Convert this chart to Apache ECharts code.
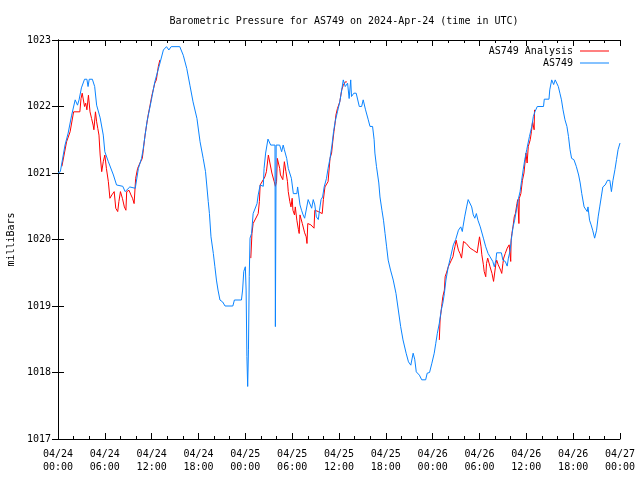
<!DOCTYPE html>
<html>
<head>
<meta charset="utf-8">
<script src="https://cdn.jsdelivr.net/npm/echarts@6/dist/echarts.min.js"></script>
<style>html,body{margin:0;padding:0;background:#fff}#c{width:640px;height:480px}</style>
</head>
<body>
<div id="c"></div>
<script>
// X values are hours since 2024-04-24 00:00 UTC
var tickLabels = ["04/24\n00:00","04/24\n06:00","04/24\n12:00","04/24\n18:00","04/25\n00:00","04/25\n06:00","04/25\n12:00","04/25\n18:00","04/26\n00:00","04/26\n06:00","04/26\n12:00","04/26\n18:00","04/27\n00:00"];
var yTicks = [1017,1018,1019,1020,1021,1022,1023];

var blueHours = [0.0,0.3,0.9,1.3,1.75,2.2,2.5,2.7,3.0,3.4,3.7,3.85,4.0,4.4,4.7,4.95,5.4,5.8,6.0,6.45,7.1,7.5,8.3,8.6,9.2,9.9,10.3,10.7,10.9,11.4,12.0,12.4,13.1,13.5,13.9,14.2,14.5,15.6,16.05,16.5,16.9,17.3,17.8,18.2,18.6,18.9,19.25,19.4,19.6,19.9,20.1,20.3,20.5,20.75,21.1,21.4,22.4,22.6,23.5,23.65,23.8,24.0,24.1,24.2,24.3,24.4,24.5,24.6,24.8,25.0,25.5,25.65,25.9,26.3,26.4,26.6,26.9,27.25,27.8,27.85,27.95,28.4,28.65,28.85,29.0,29.3,29.5,29.9,30.15,30.6,30.7,30.9,31.0,31.2,31.4,31.6,31.8,32.05,32.3,32.5,32.7,32.9,33.1,33.35,33.5,33.7,33.9,34.1,34.4,34.6,34.85,35.1,35.3,35.5,35.8,36.1,36.35,36.55,36.8,37.1,37.3,37.5,37.6,37.9,38.2,38.6,38.9,39.1,39.4,39.75,39.97,40.3,40.5,40.6,40.8,41.1,41.25,41.5,41.7,41.9,42.1,42.3,42.6,42.95,43.3,43.6,43.9,44.2,44.6,44.9,45.2,45.5,45.7,45.9,46.3,46.6,47.1,47.3,47.6,47.9,48.2,48.4,48.6,48.85,49.1,49.3,49.5,49.7,50.0,50.3,50.65,50.95,51.3,51.6,51.8,51.9,52.1,52.35,52.55,52.8,53.0,53.2,53.4,53.6,53.8,54.1,54.3,54.5,54.8,55.1,55.35,55.7,55.9,56.1,56.2,56.8,57.0,57.3,57.55,57.7,57.9,58.1,58.3,58.5,58.8,59.0,59.2,59.4,59.6,59.8,60.05,60.4,60.7,60.9,61.1,61.4,62.2,62.3,62.9,63.0,63.25,63.5,63.7,63.9,64.1,64.3,64.5,64.7,64.95,65.2,65.4,65.6,65.8,66.1,66.4,66.7,66.9,67.1,67.4,67.6,67.8,67.9,68.1,68.3,68.5,68.75,69.0,69.2,69.4,69.6,69.8,70.1,70.4,70.7,70.9,71.1,71.35,71.55,71.75,72.0];
var blueValues = [1021.0,1021.02,1021.42,1021.6,1021.87,1022.1,1022.02,1022.1,1022.28,1022.41,1022.41,1022.3,1022.41,1022.41,1022.3,1022.02,1021.83,1021.57,1021.32,1021.17,1020.97,1020.82,1020.8,1020.72,1020.79,1020.77,1021.07,1021.22,1021.35,1021.77,1022.12,1022.37,1022.67,1022.85,1022.9,1022.85,1022.9,1022.9,1022.77,1022.57,1022.32,1022.07,1021.82,1021.47,1021.22,1021.02,1020.57,1020.39,1020.04,1019.79,1019.59,1019.39,1019.24,1019.09,1019.06,1019.0,1019.0,1019.09,1019.09,1019.24,1019.52,1019.59,1019.24,1018.24,1017.79,1018.34,1019.44,1020.02,1020.09,1020.39,1020.54,1020.67,1020.82,1020.8,1021.07,1021.3,1021.51,1021.42,1021.42,1018.69,1021.42,1021.42,1021.32,1021.42,1021.35,1021.22,1021.07,1020.92,1020.69,1020.69,1020.79,1020.79,1020.52,1020.44,1020.37,1020.32,1020.32,1020.6,1020.6,1020.47,1020.6,1020.52,1020.34,1020.3,1020.44,1020.6,1020.64,1020.79,1020.92,1021.07,1021.22,1021.42,1021.62,1021.77,1021.92,1022.07,1022.25,1022.4,1022.3,1022.35,1022.12,1022.4,1022.15,1022.2,1022.2,1022.0,1022.0,1022.1,1021.95,1021.8,1021.7,1021.7,1021.5,1021.3,1021.1,1020.85,1020.64,1020.44,1020.29,1020.09,1019.89,1019.69,1019.54,1019.39,1019.19,1018.94,1018.69,1018.49,1018.29,1018.16,1018.11,1018.29,1018.2,1018.01,1017.96,1017.89,1017.89,1017.99,1018.0,1018.14,1018.29,1018.44,1018.59,1018.74,1018.94,1019.04,1019.19,1019.39,1019.59,1019.74,1019.92,1020.0,1020.14,1020.19,1020.12,1020.2,1020.34,1020.49,1020.6,1020.6,1020.49,1020.37,1020.32,1020.39,1020.29,1020.19,1020.19,1020.02,1019.89,1019.79,1019.74,1019.67,1019.59,1019.69,1019.8,1019.8,1019.69,1019.67,1019.6,1019.72,1019.82,1020.02,1020.19,1020.29,1020.49,1020.62,1020.72,1020.89,1021.05,1021.2,1021.35,1021.55,1021.7,1021.85,1021.92,1022.0,1022.0,1022.11,1022.11,1022.25,1022.4,1022.33,1022.4,1022.4,1022.3,1022.2,1022.1,1021.95,1021.8,1021.7,1021.55,1021.35,1021.22,1021.2,1021.1,1020.97,1020.85,1020.69,1020.49,1020.49,1020.42,1020.49,1020.29,1020.22,1020.14,1020.02,1020.14,1020.34,1020.49,1020.64,1020.79,1020.82,1020.89,1020.89,1020.72,1020.89,1021.05,1021.2,1021.35,1021.45];

// null values mark gaps between analysis runs
var redHours = [0.5,1.1,1.55,2.0,2.8,2.95,3.1,3.4,3.55,3.7,3.9,4.1,4.3,4.5,4.6,4.8,4.95,5.1,5.25,5.4,5.6,5.8,6.0,6.2,6.45,6.65,6.9,7.2,7.4,7.65,7.8,8.0,8.25,8.5,8.7,8.8,9.1,9.35,9.55,9.75,9.95,10.2,10.5,10.8,10.95,11.15,11.35,11.55,11.8,12.0,12.2,12.4,12.6,12.85,13.05,
  18.0,
  24.7,24.85,25.0,25.65,25.8,25.9,26.1,26.3,26.5,26.7,26.95,27.2,27.4,27.7,27.85,28.0,28.1,28.4,28.5,28.8,29.0,29.2,29.4,29.5,29.7,29.85,30.0,30.1,30.3,30.4,30.6,30.8,30.9,31.0,31.1,31.3,31.6,31.8,31.9,32.0,32.4,32.8,32.9,33.35,33.55,33.85,34.0,34.2,34.6,34.8,34.85,35.05,35.2,35.35,35.5,35.6,35.8,36.1,36.35,36.55,36.8,37.0,
  42.0,
  48.85,48.95,49.15,49.3,49.5,49.6,49.8,50.0,50.2,50.4,50.6,50.75,50.85,51.0,51.1,51.3,51.5,51.7,51.85,51.95,52.3,52.8,53.2,53.45,53.7,53.9,54.0,54.1,54.2,54.3,54.5,54.6,54.8,54.9,55.05,55.2,55.35,55.6,55.8,56.0,56.1,56.2,56.4,56.7,56.85,57.0,57.1,57.3,57.55,57.8,58.0,58.05,58.15,58.3,58.45,58.6,58.8,58.9,59.05,59.1,59.3,59.5,59.7,59.95,60.1,60.25,60.5,60.65,60.8,61.0,61.05];
var redValues = [1021.1,1021.47,1021.62,1021.92,1021.92,1022.12,1022.2,1022.0,1022.05,1021.95,1022.17,1021.92,1021.82,1021.72,1021.65,1021.92,1021.77,1021.67,1021.57,1021.27,1021.02,1021.17,1021.27,1021.07,1020.87,1020.62,1020.67,1020.72,1020.47,1020.42,1020.57,1020.72,1020.62,1020.49,1020.44,1020.72,1020.74,1020.67,1020.62,1020.54,1020.92,1021.07,1021.15,1021.22,1021.37,1021.57,1021.72,1021.87,1022.02,1022.15,1022.25,1022.35,1022.4,1022.6,1022.7,
  null,
  1019.72,1020.09,1020.24,1020.39,1020.57,1020.82,1020.85,1020.9,1020.94,1021.02,1021.27,1021.12,1021.0,1020.87,1020.8,1020.87,1021.22,1021.07,1020.97,1020.9,1021.17,1021.02,1020.87,1020.72,1020.57,1020.49,1020.62,1020.44,1020.37,1020.49,1020.29,1020.15,1020.09,1020.37,1020.37,1020.24,1020.1,1020.04,1019.94,1020.24,1020.22,1020.17,1020.44,1020.42,1020.39,1020.39,1020.6,1020.79,1020.87,1020.9,1021.22,1021.3,1021.47,1021.62,1021.75,1021.87,1021.97,1022.07,1022.25,1022.32,1022.37,1022.37,
  null,
  1018.49,1018.79,1018.99,1019.14,1019.24,1019.44,1019.51,1019.59,1019.62,1019.69,1019.74,1019.84,1019.89,1019.99,1019.99,1019.84,1019.79,1019.72,1019.72,1019.97,1019.94,1019.87,1019.84,1019.82,1019.8,1019.79,1020.04,1020.07,1019.89,1019.77,1019.62,1019.52,1019.44,1019.64,1019.72,1019.69,1019.59,1019.49,1019.37,1019.37,1019.64,1019.69,1019.62,1019.54,1019.49,1019.64,1019.72,1019.79,1019.87,1019.92,1019.67,1019.99,1020.09,1020.2,1020.34,1020.39,1020.54,1020.6,1020.24,1020.62,1020.69,1020.89,1021.0,1021.3,1021.15,1021.4,1021.5,1021.62,1021.77,1021.65,1021.95];

function pairs(xs, ys) {
  var out = [];
  for (var i = 0; i < xs.length; i++) out.push([xs[i], ys[i] === null ? '-' : ys[i]]);
  return out;
}

var FONT = "'DejaVu Sans Mono', 'Liberation Mono', monospace";
var chart = echarts.init(document.getElementById('c'), null, {renderer: 'canvas'});

var xCommon = {
  type: 'value', min: 0, max: 72, interval: 6,
  axisLine: {show: true, lineStyle: {color: '#000', width: 1}},
  axisTick: {show: true, inside: true, length: 6, lineStyle: {color: '#000'}},
  minorTick: {show: true, splitNumber: 3, length: 3, lineStyle: {color: '#000'}},
  splitLine: {show: false}, minorSplitLine: {show: false}
};
var yCommon = {
  type: 'value', min: yTicks[0], max: yTicks[yTicks.length - 1], interval: 1,
  axisLine: {show: true, lineStyle: {color: '#000', width: 1}},
  axisTick: {show: true, inside: true, length: 6, lineStyle: {color: '#000'}},
  splitLine: {show: false}
};

chart.setOption({
  animation: false,
  backgroundColor: '#fff',
  title: {
    text: 'Barometric Pressure for AS749 on 2024-Apr-24 (time in UTC)',
    left: 339, top: 11, textAlign: 'center',
    textStyle: {fontFamily: FONT, fontSize: 10, fontWeight: 'normal', color: '#000'}
  },
  legend: {
    orient: 'vertical', right: 26, top: 41, align: 'right',
    icon: 'rect', itemWidth: 29, itemHeight: 1, itemGap: 2,
    textStyle: {fontFamily: FONT, fontSize: 10, color: '#000', padding: [0, 2, 0, 0]},
    data: ['AS749 Analysis', 'AS749']
  },
  grid: {left: 58, right: 20, top: 40, bottom: 41, containLabel: false, outerBoundsMode: 'none'},
  xAxis: [
    Object.assign({}, xCommon, {
      position: 'bottom',
      axisLabel: {
        show: true, margin: 9, color: '#000', fontFamily: FONT, fontSize: 10, lineHeight: 13,
        formatter: function (v) { return tickLabels[Math.round(v / 6)] || ''; }
      }
    }),
    Object.assign({}, xCommon, {position: 'top', axisLabel: {show: false}})
  ],
  yAxis: [
    Object.assign({}, yCommon, {
      position: 'left',
      name: 'milliBars', nameLocation: 'middle', nameGap: 41,
      nameTextStyle: {fontFamily: FONT, fontSize: 10, color: '#000'},
      axisLabel: {show: true, margin: 7, color: '#000', fontFamily: FONT, fontSize: 10,
        formatter: function (v) { return String(v); }}
    }),
    Object.assign({}, yCommon, {position: 'right', axisLabel: {show: false}})
  ],
  series: [
    {
      name: 'AS749 Analysis', type: 'line', xAxisIndex: 0, yAxisIndex: 0,
      data: pairs(redHours, redValues), connectNulls: false,
      symbol: 'none', showSymbol: false,
      lineStyle: {color: '#ff0000', width: 1}, itemStyle: {color: '#ff0000'}
    },
    {
      name: 'AS749', type: 'line', xAxisIndex: 0, yAxisIndex: 0,
      data: pairs(blueHours, blueValues),
      symbol: 'none', showSymbol: false,
      lineStyle: {color: '#0a84ff', width: 1}, itemStyle: {color: '#0a84ff'}
    }
  ]
});
</script>
</body>
</html>
